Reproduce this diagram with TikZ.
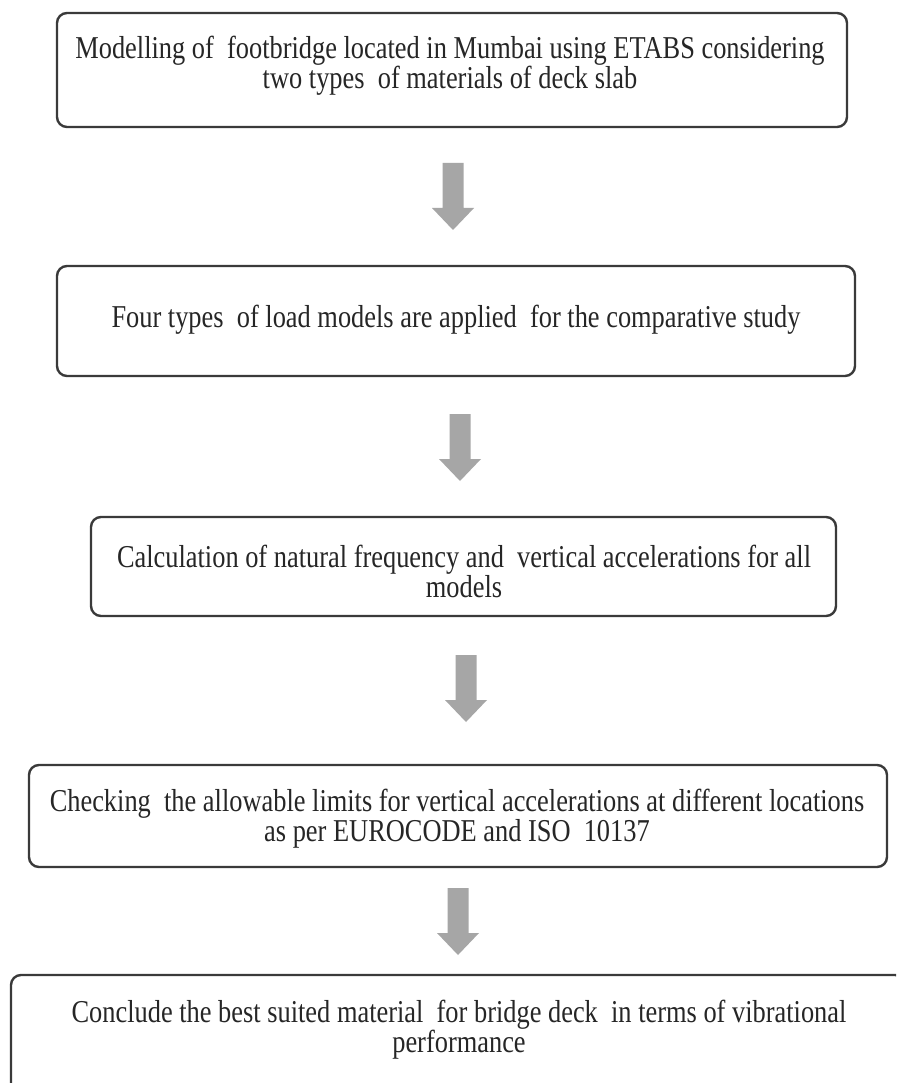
\documentclass[tikz,border=0pt]{standalone}
\usepackage{fontspec}
\setmainfont{Liberation Serif}[FakeStretch=0.83]
\begin{document}
\begin{tikzpicture}[x=1pt,y=-1pt,
  box/.style={draw=boxline, line width=2.4pt, rounded corners=10pt, fill=white, inner sep=0pt},
  txt/.style={align=center, text=textcol, font=\fontsize{31.8}{28}\selectfont, inner sep=0pt},
  downarrow/.pic={\fill[arrowfill] (-10.5,0) -- (10.5,0) -- (10.5,45) -- (21,45) -- (0,67) -- (-21,45) -- (-10.5,45) -- cycle;}
]
\definecolor{boxline}{HTML}{3A3A3A}
\definecolor{arrowfill}{HTML}{A6A6A6}
\definecolor{textcol}{HTML}{262626}
\useasboundingbox (0,0) rectangle (896,1083);
\clip (0,0) rectangle (896,1083);
\fill[white] (0,0) rectangle (896,1083);

\node[box, minimum width=790pt, minimum height=114pt] (b1) at (452,70) {};
\node[txt] (t1) at (450,66) {Modelling of\ \ footbridge located in Mumbai using ETABS considering\\two types\ \ of materials of deck slab};

\node[box, minimum width=798pt, minimum height=110pt] (b2) at (456,321) {};
\node[txt] (t2) at (456,320) {Four types\ \ of load models are applied\ \ for the comparative study};

\node[box, minimum width=745pt, minimum height=99pt] (b3) at (463.5,566.5) {};
\node[txt] (t3) at (464,571) {Calculation of natural frequency and\ \ vertical accelerations for all\\models};

\node[box, minimum width=858pt, minimum height=102pt] (b4) at (458,816) {};
\node[txt] (t4) at (457,819) {Checking\ \ the allowable limits for vertical accelerations at different locations\\as per EUROCODE and ISO\ \ 10137};

\node[box, minimum width=894pt, minimum height=120pt] (b5) at (458,1035) {};
\node[txt] (t5) at (459,1030) {Conclude the best suited material\ \ for bridge deck\ \ in terms of vibrational\\performance};

\coordinate (a1) at (453,163);
\coordinate (a2) at (460,414);
\coordinate (a3) at (466,655);
\coordinate (a4) at (458,888);
\pic at (a1) {downarrow};
\pic at (a2) {downarrow};
\pic at (a3) {downarrow};
\pic at (a4) {downarrow};
\end{tikzpicture}
\end{document}
